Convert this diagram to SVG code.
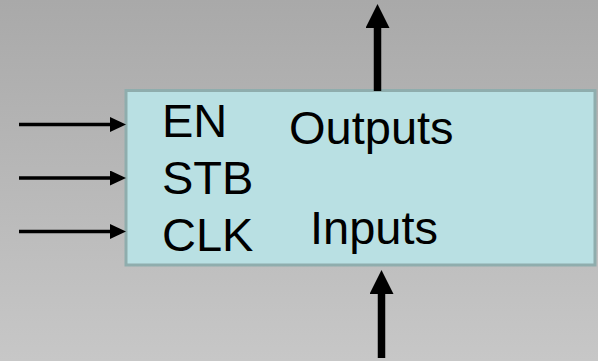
<svg xmlns="http://www.w3.org/2000/svg" width="598" height="361" viewBox="0 0 598 361">
<style>
.lbl{font-family:"Liberation Sans",Arial,sans-serif;font-size:47px;fill:#000}
.thin{stroke:#000;stroke-width:3.5;fill:none}
.thick{stroke:#000;stroke-width:7.5;fill:none}
</style>
<defs>
<linearGradient id="bg" x1="0" y1="0" x2="0" y2="1">
<stop offset="0" stop-color="#a9a9a9"/>
<stop offset="1" stop-color="#c7c7c7"/>
</linearGradient>
<marker id="hs" markerUnits="userSpaceOnUse" viewBox="0 0 16 15" refX="2" refY="7.5" markerWidth="16" markerHeight="15" orient="auto">
<path d="M0,0 L16,7.5 L0,15 z" fill="#000"/>
</marker>
<marker id="hb" markerUnits="userSpaceOnUse" viewBox="0 0 24 24" refX="2" refY="12" markerWidth="24" markerHeight="24" orient="auto">
<path d="M0,0 L24,12 L0,24 z" fill="#000"/>
</marker>
</defs>
<rect width="598" height="361" fill="url(#bg)"/>
<g id="block">
<rect x="126" y="90.5" width="469" height="174.5" fill="#b9e0e3" stroke="#8fadad" stroke-width="3"/>
<text class="lbl" x="162" y="137">EN</text>
<text class="lbl" x="162" y="194">STB</text>
<text class="lbl" x="162" y="251">CLK</text>
<text class="lbl" x="289" y="144">Outputs</text>
<text class="lbl" x="310" y="244">Inputs</text>
</g>
<g id="connectors">
<line class="thin" x1="19" y1="124.5" x2="112" y2="124.5" marker-end="url(#hs)"/>
<line class="thin" x1="19" y1="178" x2="112" y2="178" marker-end="url(#hs)"/>
<line class="thin" x1="19" y1="231.5" x2="112" y2="231.5" marker-end="url(#hs)"/>
<line class="thick" x1="377.5" y1="91" x2="377.5" y2="26" marker-end="url(#hb)"/>
<line class="thick" x1="381.5" y1="358" x2="381.5" y2="292" marker-end="url(#hb)"/>
</g>
</svg>
